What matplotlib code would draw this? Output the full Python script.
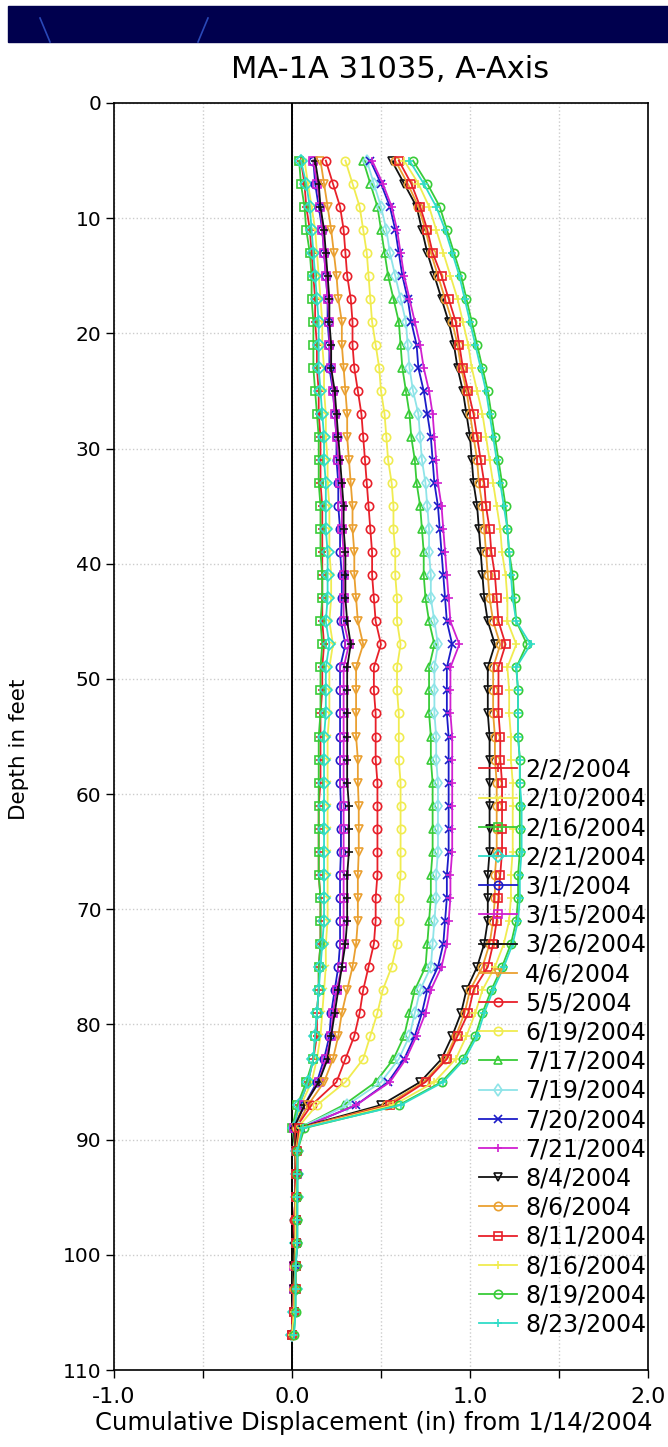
import matplotlib
matplotlib.use("Agg")
import matplotlib.pyplot as plt
from matplotlib.lines import Line2D
from matplotlib.patches import Rectangle

# depth of each reading (ft)
depth_ft = [5, 7, 9, 11, 13, 15, 17, 19, 21, 23, 25, 27, 29, 31, 33, 35, 37, 39, 41, 43,
            45, 47, 49, 51, 53, 55, 57, 59, 61, 63, 65, 67, 69, 71, 73, 75, 77, 79, 81, 83,
            85, 87, 89, 91, 93, 95, 97, 99, 101, 103, 105, 107]

# cumulative displacement (in) per survey date, top to bottom
d_0202 = [.05, .07, .08, .10, .11, .12, .13, .13, .14, .14, .15, .15, .16, .16, .16, .17, .17, .17, .17, .17,
          .17, .18, .17, .17, .16, .16, .16, .16, .15, .15, .15, .15, .16, .16, .16, .15, .15, .14, .14, .12,
          .09, .04, .01, .02, .02, .02, .01, .01, .01, .01, .00, .00]
d_0210 = [.07, .09, .11, .13, .14, .15, .16, .17, .17, .18, .18, .19, .19, .20, .20, .21, .21, .21, .22, .22,
          .21, .23, .21, .21, .21, .20, .20, .20, .20, .20, .20, .20, .20, .20, .19, .19, .18, .17, .16, .14,
          .11, .05, .02, .03, .03, .02, .02, .02, .01, .01, .01, .00]
d_0216 = [.04, .05, .07, .08, .10, .11, .11, .12, .12, .12, .13, .14, .15, .15, .15, .16, .16, .16, .17, .17,
          .16, .17, .16, .16, .16, .15, .15, .15, .15, .15, .15, .15, .16, .16, .16, .15, .15, .14, .13, .12,
          .08, .03, .00, .02, .02, .02, .02, .02, .02, .01, .01, .00]
d_0221 = [.05, .08, .10, .11, .12, .13, .14, .15, .15, .15, .16, .17, .18, .18, .19, .19, .19, .20, .20, .20,
          .19, .21, .19, .19, .19, .18, .18, .18, .18, .18, .18, .18, .18, .18, .17, .16, .15, .14, .13, .12,
          .09, .04, .01, .03, .03, .03, .02, .02, .02, .02, .01, .00]
d_0301 = [.12, .13, .15, .17, .18, .19, .20, .20, .21, .21, .23, .24, .25, .25, .26, .26, .27, .27, .28, .28,
          .275, .30, .27, .27, .27, .27, .27, .27, .275, .275, .275, .27, .27, .27, .27, .26, .24, .22, .21, .18,
          .14, .07, .01, .03, .03, .02, .02, .02, .02, .01, .01, .00]
d_0315 = [.12, .14, .16, .17, .18, .19, .20, .21, .21, .22, .23, .24, .25, .26, .27, .28, .28, .29, .29, .29,
          .29, .32, .29, .29, .29, .29, .29, .29, .29, .29, .29, .29, .29, .29, .29, .28, .25, .23, .22, .19,
          .15, .07, .01, .02, .03, .02, .02, .02, .01, .01, .01, .00]
d_0326 = [.13, .15, .16, .18, .19, .20, .21, .21, .22, .22, .24, .25, .26, .27, .28, .29, .29, .30, .30, .30,
          .31, .33, .31, .31, .31, .31, .31, .31, .32, .32, .32, .31, .31, .31, .30, .28, .26, .24, .22, .20,
          .15, .07, .01, .02, .02, .02, .02, .01, .01, .01, .01, .00]
d_0406 = [.16, .18, .20, .22, .235, .25, .26, .28, .28, .29, .30, .31, .31, .32, .33, .34, .34, .35, .35, .36,
          .37, .40, .36, .36, .36, .36, .37, .37, .375, .375, .375, .37, .37, .37, .36, .34, .31, .28, .26, .23,
          .18, .09, .02, .02, .02, .03, .02, .02, .02, .02, .01, .00]
d_0505 = [.19, .23, .27, .29, .30, .31, .33, .34, .34, .35, .37, .39, .40, .41, .42, .43, .44, .45, .45, .46,
          .47, .50, .46, .46, .47, .47, .47, .48, .48, .48, .48, .48, .47, .47, .46, .43, .40, .38, .35, .30,
          .25, .11, .02, .02, .02, .02, .01, .02, .02, .01, .01, .00]
d_0619 = [.30, .34, .38, .40, .42, .43, .44, .45, .47, .49, .50, .52, .53, .54, .56, .57, .57, .58, .58, .59,
          .59, .61, .59, .59, .60, .60, .60, .61, .61, .61, .61, .61, .60, .60, .59, .56, .51, .48, .44, .40,
          .30, .14, .03, .03, .02, .02, .02, .02, .01, .01, .01, .00]
d_0717 = [.40, .44, .48, .50, .52, .54, .57, .60, .61, .62, .64, .66, .67, .69, .70, .72, .73, .74, .74, .75,
          .77, .80, .77, .77, .77, .78, .78, .79, .79, .79, .79, .78, .78, .77, .76, .75, .69, .66, .63, .57,
          .47, .29, .04, .02, .02, .02, .02, .02, .02, .02, .01, .00]
d_0719 = [.42, .46, .50, .53, .55, .58, .61, .64, .65, .66, .68, .71, .72, .73, .75, .76, .77, .77, .78, .78,
          .80, .82, .80, .80, .80, .81, .81, .82, .82, .82, .82, .81, .81, .80, .79, .78, .72, .69, .66, .60,
          .50, .31, .04, .03, .03, .03, .02, .02, .02, .02, .01, .00]
d_0720 = [.44, .50, .55, .58, .60, .62, .65, .67, .70, .71, .74, .76, .78, .79, .80, .82, .83, .84, .85, .86,
          .87, .90, .87, .87, .87, .88, .88, .88, .88, .88, .88, .87, .87, .86, .85, .82, .76, .73, .69, .63,
          .54, .36, .05, .03, .02, .02, .02, .03, .02, .01, .01, .00]
d_0721 = [.45, .51, .56, .59, .61, .63, .66, .69, .72, .74, .77, .79, .80, .81, .82, .84, .85, .86, .87, .88,
          .89, .94, .89, .89, .89, .90, .90, .90, .90, .90, .90, .89, .89, .88, .87, .84, .78, .75, .70, .64,
          .55, .36, .05, .02, .02, .02, .02, .02, .02, .01, .01, .00]
d_0804 = [.56, .63, .70, .73, .76, .80, .84, .88, .91, .93, .96, .98, 1.00, 1.01, 1.02, 1.04, 1.05, 1.06, 1.07, 1.08,
          1.10, 1.14, 1.10, 1.10, 1.10, 1.11, 1.11, 1.11, 1.11, 1.11, 1.11, 1.10, 1.10, 1.10, 1.08, 1.04, .98, .95, .90, .84,
          .72, .50, .03, .02, .02, .02, .02, .02, .01, .01, .01, .00]
d_0806 = [.58, .65, .71, .75, .78, .82, .86, .90, .93, .95, .98, 1.00, 1.02, 1.04, 1.05, 1.07, 1.08, 1.09, 1.10, 1.11,
          1.13, 1.17, 1.13, 1.13, 1.13, 1.14, 1.14, 1.15, 1.15, 1.15, 1.15, 1.14, 1.14, 1.13, 1.11, 1.07, 1.00, .97, .92, .86,
          .74, .53, .04, .02, .02, .02, .02, .02, .02, .01, .01, .00]
d_0811 = [.60, .67, .72, .76, .79, .84, .88, .92, .94, .96, .99, 1.02, 1.04, 1.06, 1.08, 1.09, 1.11, 1.12, 1.14, 1.15,
          1.16, 1.20, 1.16, 1.16, 1.16, 1.17, 1.17, 1.18, 1.18, 1.18, 1.18, 1.17, 1.16, 1.15, 1.13, 1.10, 1.02, .99, .93, .87,
          .75, .55, .04, .03, .02, .02, .02, .02, .02, .02, .01, .00]
d_0816 = [.63, .71, .77, .81, .85, .89, .93, .96, .99, 1.01, 1.04, 1.07, 1.09, 1.11, 1.13, 1.15, 1.17, 1.18, 1.20, 1.21,
          1.21, 1.26, 1.21, 1.22, 1.22, 1.23, 1.23, 1.24, 1.24, 1.24, 1.24, 1.23, 1.23, 1.22, 1.19, 1.14, 1.07, 1.03, .98, .92,
          .80, .57, .05, .03, .03, .02, .02, .02, .02, .02, .01, .00]
d_0819 = [.68, .76, .83, .87, .91, .95, .98, 1.01, 1.04, 1.07, 1.10, 1.12, 1.14, 1.16, 1.18, 1.20, 1.21, 1.22, 1.24, 1.25,
          1.26, 1.32, 1.26, 1.27, 1.27, 1.27, 1.28, 1.28, 1.28, 1.28, 1.28, 1.27, 1.27, 1.26, 1.23, 1.18, 1.12, 1.07, 1.03, .96,
          .84, .60, .07, .03, .03, .03, .03, .03, .02, .02, .02, .01]
d_0823 = [.66, .74, .81, .86, .90, .94, .97, 1.00, 1.03, 1.06, 1.09, 1.11, 1.13, 1.15, 1.17, 1.19, 1.21, 1.22, 1.23, 1.24,
          1.26, 1.34, 1.26, 1.27, 1.27, 1.27, 1.28, 1.28, 1.29, 1.29, 1.29, 1.28, 1.28, 1.27, 1.24, 1.19, 1.13, 1.08, 1.04, .97,
          .85, .61, .06, .03, .03, .03, .03, .03, .02, .02, .02, .01]

survey_labels = ["2/2/2004", "2/10/2004", "2/16/2004", "2/21/2004", "3/1/2004", "3/15/2004",
                 "3/26/2004", "4/6/2004", "5/5/2004", "6/19/2004", "7/17/2004", "7/19/2004",
                 "7/20/2004", "7/21/2004", "8/4/2004", "8/6/2004", "8/11/2004", "8/16/2004",
                 "8/19/2004", "8/23/2004"]

series = [d_0202, d_0210, d_0216, d_0221, d_0301, d_0315, d_0326, d_0406, d_0505, d_0619,
          d_0717, d_0719, d_0720, d_0721, d_0804, d_0806, d_0811, d_0816, d_0819, d_0823]

RED, YEL, GRN, CYN = "#e8202a", "#f0ec50", "#38cc38", "#30dcc8"
BLU, MAG, BLK, ORG, LCY = "#1c1cc8", "#d020d0", "#111111", "#eaa030", "#8ee4e8"
styles = [(RED, "+"), (YEL, "1"), (GRN, "s"), (CYN, "D"), (BLU, "o"), (MAG, "s"),
          (BLK, "+"), (ORG, "v"), (RED, "o"), (YEL, "o"), (GRN, "^"), (LCY, "d"),
          (BLU, "x"), (MAG, "+"), (BLK, "v"), (ORG, "o"), (RED, "s"), (YEL, "+"),
          (GRN, "o"), (CYN, "+")]

plt.rcParams["font.family"] = ["DejaVu Sans"]

W, H = 668, 1447
fig = plt.figure(figsize=(W / 100, H / 100), dpi=100)

# dark banner across the top of the slide
fig.patches.append(Rectangle((8 / W, 1 - 42 / H), 1 - 8 / W, 36 / H,
                             transform=fig.transFigure, color="#00004e", zorder=0))
for x0, x1 in [(40, 50), (208, 198)]:
    fig.lines.append(Line2D([x0 / W, x1 / W], [1 - 18 / H, 1 - 42 / H],
                            transform=fig.transFigure, color="#2a48b8", lw=1.2))

left, right, top, bottom = 114, 648, 103, 1370
ax = fig.add_axes([left / W, 1 - bottom / H, (right - left) / W, (bottom - top) / H])

for vals, lab, (col, mk) in zip(series, survey_labels, styles):
    ax.plot(vals, depth_ft, color=col, marker=mk, markersize=6, mfc="none",
            mew=1.2, lw=1.3, label=lab)

ax.axvline(0, color="black", lw=1.4, zorder=1.8)

ax.set_xlim(-1, 2)
ax.set_ylim(110, 0)
ax.set_xticks([-1, 0, 1, 2])
ax.set_xticklabels(["-1.0", "0.0", "1.0", "2.0"])
ax.set_xticks([-0.5, 0.5, 1.5], minor=True)
ax.set_yticks(range(0, 111, 10))
ax.tick_params(axis="both", which="both", direction="out", length=6, width=1,
               labelsize=14.5, pad=3)
ax.tick_params(axis="x", labelsize=16, pad=6)
ax.grid(True, which="both", color="#cccccc", linestyle=":", linewidth=1)
for sp in ax.spines.values():
    sp.set_linewidth(1.2)

ax.set_xlabel("Cumulative Displacement (in) from 1/14/2004", fontsize=17.5)
ax.xaxis.set_label_coords(0.486, -0.032)
ax.set_ylabel("Depth in feet", fontsize=15.5)
ax.yaxis.set_label_coords(-0.16, 0.49)

fig.text(390 / W, 1 - 70 / H, "MA-1A 31035, A-Axis", fontsize=22,
         ha="center", va="center")

ax.legend(loc="lower right", bbox_to_anchor=(1.012, 0.02), frameon=False, fontsize=17,
          labelspacing=0.22, handlelength=1.6, handletextpad=0.35, borderaxespad=0.05,
          borderpad=0.3)

fig.savefig("out.png", dpi=100)
